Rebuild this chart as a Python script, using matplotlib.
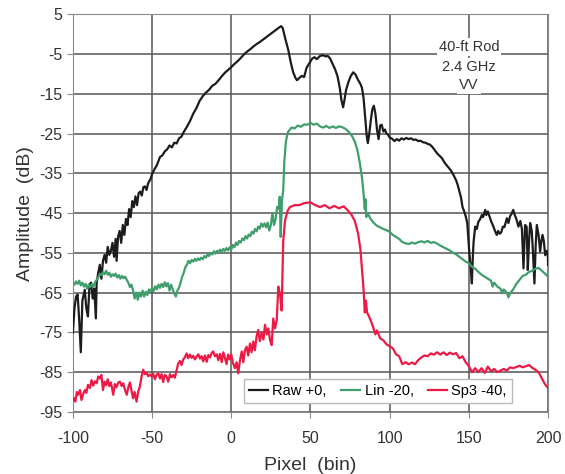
import numpy as np
import matplotlib
matplotlib.use("Agg")
import matplotlib.pyplot as plt

plt.rcParams['font.family'] = ['Liberation Sans', 'DejaVu Sans']
plt.rcParams['axes.unicode_minus'] = False

# Raw +0 curve (bin, dB)
raw_pts = [
    (-100, -75), (-99, -69), (-98, -66), (-97, -65.5), (-96, -72), (-95, -80), (-94, -67),
    (-92.5, -64.3), (-91.5, -69), (-90.5, -71), (-89.5, -63), (-88.5, -62.5), (-87.5, -66.5),
    (-86.5, -64), (-85.5, -71.5), (-85, -62.6), (-84, -60), (-83, -58), (-82, -61.5), (-81, -57),
    (-80, -55.5), (-79, -57.5), (-78, -53.5), (-77, -55.5), (-76, -54.5), (-75, -52.5), (-74, -56),
    (-73, -51.5), (-72.4, -57), (-71.5, -51), (-70.5, -49.5), (-69.5, -52.5), (-68.5, -48),
    (-67.5, -50.5), (-66.5, -46.5), (-65.5, -48), (-64.5, -44), (-63.5, -46), (-62.5, -42),
    (-61.5, -43.5), (-60.5, -40.8), (-59.5, -43), (-58.5, -40), (-57.5, -39.6), (-56.5, -40.6),
    (-55.5, -38.5), (-54.5, -38.3), (-53.5, -39.2), (-52.5, -37.5), (-51, -36.5), (-50, -35.2),
    (-48.5, -34), (-47, -33), (-45, -30.9), (-43.5, -30.5), (-42, -29.5), (-40.5, -29), (-39, -28),
    (-37.5, -28.5), (-36, -27.3), (-34.5, -27.5), (-33, -26.2), (-31.5, -25.8), (-30, -24.6),
    (-28, -23.3), (-26, -21.8), (-24, -20), (-22, -18.6), (-20, -16.8), (-18, -15.6), (-16, -14.7),
    (-14, -14), (-12, -13), (-10, -12.5), (-8, -11.6), (-6, -10.6), (-4, -9.7), (-2, -9), (0, -8.3),
    (2, -7.5), (4, -6.8), (6, -6), (8, -5.1), (10, -4.4), (12, -3.8), (14, -3.1), (16, -2.5),
    (18, -2), (20, -1.4), (22, -0.8), (24, -0.2), (26, 0.4), (28, 1), (30, 1.6), (31.5, 2),
    (32.5, 1.5), (34, -1), (36, -4), (37.5, -7), (39, -9.5), (40.5, -11), (41.5, -11.6), (43, -11),
    (44.5, -10.5), (46, -10.8), (47.5, -8.5), (49, -7.5), (51, -6.2), (52.5, -5.8), (54, -6.3),
    (56, -5.5), (58, -5.3), (59.5, -5.6), (61, -5.5), (62.5, -6.2), (64, -7.5), (65.5, -8.8),
    (67, -10.5), (68.5, -13.5), (69.5, -16.5), (70.6, -18.4), (71.5, -16.5), (72.5, -14), (74, -12),
    (75.5, -10.5), (77, -9.6), (78.5, -10.2), (80, -11.5), (81.5, -12.5), (82.5, -13.5), (83.5, -16),
    (84.5, -20.8), (85.5, -25.5), (86.2, -27.4), (87, -25.5), (88, -22), (89, -19), (90, -18),
    (91, -20), (92, -24), (93, -26.4), (94, -23), (95, -22.8), (96, -24.5), (97, -24), (98, -25),
    (99, -25.3), (100, -26), (101.5, -26.3), (103, -26.9), (104.5, -26.4), (106, -26.8),
    (107.5, -26.2), (109, -26.5), (110.5, -26.1), (112, -26.4), (113.5, -26.2), (115, -26.6),
    (116.5, -26.5), (118, -26.9), (119.5, -26.8), (121, -27.2), (122.5, -27.3), (124, -27.6),
    (125.5, -27.8), (127, -28.4), (128.5, -29.2), (130, -30), (131.5, -30.6), (133, -31.2),
    (134.5, -32.2), (136, -33), (137.5, -33.7), (139, -34.5), (140.5, -35.6), (142, -36.8),
    (143, -38), (144, -39.5), (145, -41), (146, -43.5), (147, -44.5), (148, -45.8), (149, -47.5),
    (149.7, -51.4), (150.3, -55), (151, -58), (151.9, -62.7), (152.5, -56), (153, -52.2),
    (154, -48.4), (155, -49), (156, -47.2), (157, -46.6), (158.2, -45.5), (159, -46), (160.3, -44.2),
    (161, -45.5), (162, -44.6), (163, -45.8), (164, -47), (165.5, -48.4), (166.5, -49.5),
    (167.6, -50.5), (168.5, -49.5), (169.5, -50.2), (170.5, -49.8), (171.5, -48.4), (172.5, -48.5),
    (174, -46.3), (175, -47.5), (176, -45.8), (177, -45.2), (178, -44.2), (179, -45.5), (180, -46.5),
    (181.3, -48.4), (182.5, -47), (183.5, -49), (184.5, -58.9), (185.5, -48), (186.5, -48.5),
    (187.2, -59.3), (188, -52), (188.7, -47.5), (189.7, -49.5), (190.5, -55), (191.4, -62.7),
    (192.2, -53), (192.9, -48), (194, -50.5), (195, -54.7), (195.8, -52), (196.5, -50.5),
    (197.3, -52), (198.2, -55.6), (199, -54.5), (199.9, -55.1), (200, -58),
]

# Lin -20 curve
lin_pts = [
    (-100, -62.5), (-99, -63), (-98, -62.2), (-97, -62.8), (-96, -62), (-95, -63.2), (-94, -62.5),
    (-93, -63.5), (-92, -62.8), (-91, -64), (-90, -63), (-89, -63.6), (-88, -62.8), (-87, -63.5),
    (-86, -62.4), (-85, -61.8), (-84, -61.2), (-83, -60.3), (-82, -60.6), (-81, -59.8), (-80, -60.4),
    (-79, -59.5), (-78, -60.5), (-77, -60), (-76, -61), (-75, -60.4), (-74, -60.8), (-73, -60.2),
    (-72, -61.2), (-71, -60.6), (-70, -61.5), (-69, -60.8), (-68, -61.4), (-67, -61), (-66, -61.8),
    (-65, -62.5), (-64, -63.6), (-63, -63), (-62, -64.5), (-61, -66.5), (-60, -65), (-59, -66.8),
    (-58, -65), (-57, -66), (-56, -64.5), (-55, -66), (-54, -64.8), (-53, -65.6), (-52, -64.2),
    (-51, -64.8), (-50, -63.8), (-49, -64.6), (-48, -63.4), (-47, -64.2), (-46, -63), (-45, -63.8),
    (-44, -62.8), (-43, -63.6), (-42, -62.4), (-41, -63.4), (-40, -62.6), (-39, -64.5), (-38, -63),
    (-37, -64.2), (-36, -65.2), (-35, -66), (-34, -64.5), (-33, -63.8), (-32, -62.5), (-31, -61),
    (-30, -60), (-29, -58.6), (-28, -58), (-27, -57), (-26, -57.6), (-25, -56.8), (-24, -57.2),
    (-23, -56.5), (-22, -57), (-21, -56.4), (-20, -56.8), (-19, -56.2), (-18, -56.6), (-17, -55.8),
    (-16, -56.2), (-15, -55.4), (-14, -55.8), (-13, -55), (-12, -55.4), (-11, -54.6), (-10, -55.2),
    (-9, -54.5), (-8, -54.8), (-7, -54.2), (-6, -54.8), (-5, -54), (-4, -54.5), (-3, -53.8),
    (-2, -54.4), (-1, -53.6), (0, -54.2), (1, -53), (2, -53.6), (3, -52.4), (4, -53), (5, -52),
    (6, -52.4), (7, -51.4), (8, -51.8), (9, -50.8), (10, -51.4), (11, -50.4), (12, -50.8),
    (13, -49.7), (14, -50.2), (15, -49), (16, -49.6), (17, -48.4), (18, -48.9), (19, -47.6),
    (20, -48.4), (21, -47.6), (22, -48.6), (23, -47.4), (24, -49.4), (25, -48), (26, -45), (27, -48),
    (28, -46.5), (29, -43.4), (30, -44), (30.6, -40.9), (31.2, -51), (32, -42), (32.8, -39.2),
    (33.5, -32), (34.5, -27), (35.5, -25), (36, -24.5), (38, -23.5), (40, -23.7), (42, -23),
    (44, -23.3), (46, -22.7), (48, -22.8), (50, -22.3), (52, -22.8), (54, -22.5), (56, -23.2),
    (58, -23.5), (60, -23.1), (62, -23.6), (64, -23.2), (66, -23.6), (68, -23.2), (70, -23.4),
    (72, -23.8), (74, -24.5), (76, -25.5), (78, -27), (79.5, -29), (81, -32), (82.5, -36),
    (83.5, -40), (84.3, -44), (84.7, -41.5), (85.2, -46), (86, -45), (88, -46.5), (90, -47.5),
    (92, -48.2), (94, -48.6), (96, -49), (98, -49.3), (100, -49.7), (102, -50.5), (104, -51),
    (106, -51.5), (108, -52.3), (110, -52.6), (112, -52.8), (114, -52.4), (116, -52.7), (118, -52.3),
    (120, -52.1), (122, -52.4), (124, -52), (126, -52.5), (128, -52.3), (130, -52.7), (132, -53.2),
    (134, -53.6), (136, -54), (138, -54.4), (140, -55), (142, -55.4), (144, -56), (146, -56.6),
    (148, -57.2), (150, -57.6), (152, -58.5), (154, -59), (156, -59.8), (158, -60.5), (160, -61),
    (162, -61.5), (164, -62), (165, -63.5), (166, -62.5), (168, -63.5), (170, -64), (171, -65.2),
    (172, -64.2), (174, -65), (175, -66.2), (176, -65.2), (178, -64.2), (180, -62.8), (182, -61.8),
    (184, -60.8), (186, -60.5), (188, -59.8), (190, -59.5), (192, -59), (194, -58.8), (196, -59.5),
    (198, -60.2), (200, -61),
]

# Sp3 -40 curve
sp3_pts = [
    (-100, -92), (-99, -91.5), (-98.5, -92.4), (-97.5, -90), (-96.7, -90.7), (-95.5, -89.5),
    (-94.6, -92), (-93.5, -90.5), (-92.4, -89.5), (-91.5, -90.2), (-90.5, -88.2), (-89.3, -89),
    (-88.2, -87), (-87.2, -88.4), (-86, -87.3), (-85, -87.8), (-84, -86.1), (-83, -86.6),
    (-82, -85.7), (-81, -89.5), (-80, -87.4), (-79, -88.3), (-78, -86.8), (-77, -88.5), (-76, -87.6),
    (-74.5, -90.7), (-73.5, -88), (-72.5, -88.8), (-71.3, -87.6), (-70.3, -87.4), (-69.2, -88.5),
    (-68.2, -87.8), (-67, -89.6), (-66, -90.7), (-65, -88.8), (-64, -87.6), (-63, -89.6),
    (-62, -91.6), (-61, -90), (-59.8, -92.4), (-58.8, -90), (-57.7, -88.6), (-56.6, -86),
    (-55.6, -84.4), (-54.6, -85.5), (-53.5, -85.2), (-52.5, -86), (-51.4, -85.6), (-50.3, -86.1),
    (-49.3, -85.4), (-48.2, -86.8), (-47.2, -85.7), (-46.1, -85.3), (-45, -86.6), (-44, -85.5),
    (-43, -87.5), (-42, -85.7), (-41, -86), (-39.8, -87.4), (-38.7, -85.5), (-37.7, -86.3),
    (-36.6, -85.7), (-35.6, -86.4), (-34.5, -84.5), (-33.5, -82.8), (-32.4, -82.2), (-31.4, -83.2),
    (-30.3, -81.8), (-29.2, -81.2), (-28.2, -80.3), (-27.2, -81.5), (-26.1, -80.6), (-25, -81.4),
    (-24, -80.9), (-22.9, -81.8), (-21.9, -81.1), (-20.8, -80.5), (-19.8, -81.6), (-18.7, -81),
    (-17.7, -82.3), (-16.6, -80.8), (-15.5, -82.4), (-14.5, -80.7), (-13.4, -81.3), (-12.4, -80.2),
    (-11.4, -79.8), (-10.3, -81), (-9.2, -80.5), (-8.2, -82), (-7.1, -80.4), (-6, -82.5), (-5, -80),
    (-4, -81.4), (-3, -83), (-2, -80.6), (-1, -81.8), (0, -80.5), (1, -82.6), (2.3, -84),
    (3.4, -82.5), (4.4, -85.3), (5.5, -82), (6.6, -79.8), (7.6, -82.5), (8.6, -79.5), (9.7, -78.6),
    (10.7, -80.8), (11.8, -77.8), (12.8, -80), (13.9, -77.3), (14.9, -79.5), (16, -76), (17, -74.4),
    (18, -77.2), (19.2, -75), (20.3, -76.8), (21.3, -73.1), (22.4, -75.5), (23.4, -74), (24.5, -77),
    (25.5, -78.2), (26.5, -71.5), (27.6, -74), (28.7, -71.9), (29.7, -63.5), (30.8, -65.5),
    (31.8, -69.5), (32.8, -52), (34, -46.8), (35.5, -44.5), (37, -43.5), (40, -43), (43, -43),
    (46, -42.5), (50, -42.3), (53, -43), (56, -43.5), (59, -43), (62, -43.8), (65, -43.2),
    (68, -43.8), (71, -43.3), (74, -44.5), (76, -45.5), (78, -47), (80, -50), (81.5, -54),
    (82.5, -59), (83.5, -64), (84.3, -70), (85, -67), (85.7, -70), (87, -71), (89, -73),
    (91, -75.5), (92, -74.5), (94, -76.5), (96, -77), (98, -78), (100, -78.5), (102, -79),
    (104, -80.5), (106, -81), (108, -83), (110, -82.5), (112, -83), (114, -82.6), (116, -83),
    (118, -82), (120, -81.3), (122, -80.8), (124, -81), (126, -80.3), (128, -80.6), (130, -80),
    (132, -80.6), (134, -80), (136, -80.7), (138, -80.1), (140, -80.5), (142, -80.2), (144, -81.5),
    (146, -81), (148, -82.5), (150, -83.5), (152, -85), (154, -84), (156, -85), (158, -84),
    (160, -85.2), (162, -83.6), (164, -84.8), (166, -84.2), (168, -85), (170, -84.6), (172, -84.2),
    (174, -84.6), (176, -83.8), (178, -84), (180, -83.7), (182, -83.4), (184, -83.8), (186, -83.5),
    (188, -83.2), (190, -83.9), (192, -84.4), (194, -85), (196, -86.5), (198, -88), (200, -89),
]

labels = ["Raw +0,", "Lin -20,", "Sp3 -40,"]
colors = ["#1c1c1c", "#3f9e6c", "#ec1a44"]
note_lines = ["40-ft Rod", "2.4 GHz", "VV"]
note_y = [-3.3, -8.3, -12.9]
xticks = [-100, -50, 0, 50, 100, 150, 200]
yticks = list(range(5, -96, -10))

fig = plt.figure(figsize=(5.65, 4.74), dpi=100)
ax = fig.add_axes([0.129, 0.131, 0.841, 0.839])

for pts, lab, col in zip([raw_pts, lin_pts, sp3_pts], labels, colors):
    arr = np.array(pts)
    ax.plot(arr[:, 0], arr[:, 1], color=col, lw=1.6, label=lab, zorder=3)

ax.set_xlim(-100, 200)
ax.set_ylim(-95, 5)
ax.set_xticks(xticks)
ax.set_yticks(yticks)
ax.grid(True, color="#555555", lw=1.1)
ax.set_axisbelow(True)
for s in ax.spines.values():
    s.set_color("#8a8a8a")
ax.tick_params(axis="both", colors="#8a8a8a", labelcolor="#333333", labelsize=11.5,
               length=4, direction="out")
ax.tick_params(axis="x", pad=10)

ax.set_xlabel("Pixel  (bin)", fontsize=14, color="#333333", labelpad=8)
ax.set_ylabel("Amplitude  (dB)", fontsize=14, color="#333333")

for txt, yy in zip(note_lines, note_y):
    ax.text(150, yy, txt, ha="center", va="center", fontsize=10.5, color="#333333",
            bbox=dict(facecolor="white", edgecolor="none", pad=1.5), zorder=4)

leg = ax.legend(loc="lower right", bbox_to_anchor=(0.924, 0.022), ncol=3, fontsize=10.5,
                frameon=True, fancybox=False, handlelength=1.3, handletextpad=0.3,
                columnspacing=1.0, borderpad=0.35, borderaxespad=0)
leg.get_frame().set_edgecolor("#bbbbbb")
leg.get_frame().set_linewidth(1.0)
leg.get_frame().set_alpha(1.0)

fig.savefig("out.png", dpi=100)
